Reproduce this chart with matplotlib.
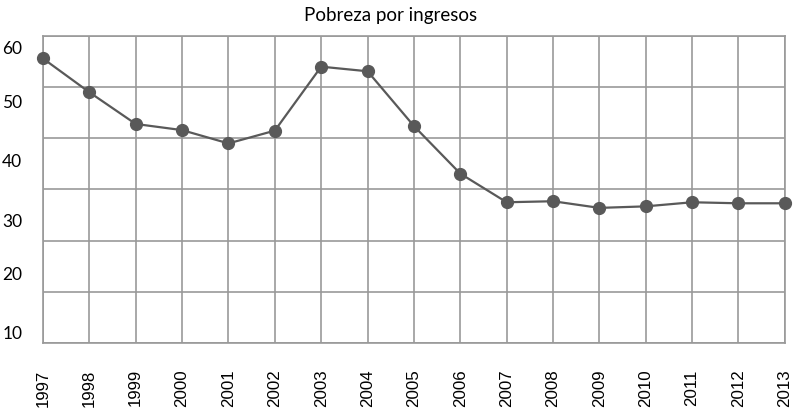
import matplotlib
matplotlib.use("Agg")
import matplotlib.pyplot as plt
import numpy as np

years = ["1997", "1998", "1999", "2000", "2001", "2002", "2003", "2004", "2005",
         "2006", "2007", "2008", "2009", "2010", "2011", "2012", "2013"]
pobreza = [55.6, 49.0, 42.8, 41.6, 39.0, 41.5, 54.0, 53.1, 42.4,
           33.1, 27.5, 27.7, 26.4, 26.7, 27.5, 27.3, 27.3]
grid_values = [0, 10, 20, 30, 40, 50, 60]
y_labels = ["60", "50", "40", "30", "20", "10"]
y_label_pos = [57.65, 47.1, 35.7, 24.0, 13.6, 2.07]
title = "Pobreza por ingresos"

fig = plt.figure(figsize=(7.96, 4.11), dpi=100)
ax = fig.add_axes([0.054, 0.1655, 0.932, 0.747])

x = np.arange(len(years))
ax.plot(x, pobreza, color="#595959", lw=1.6, marker="o", ms=8.5,
        markeredgecolor="#595959", markerfacecolor="#595959", clip_on=False, zorder=3)

ax.set_xlim(0, len(years) - 1)
ax.set_ylim(0, 60)
ax.set_xticks(x)
ax.set_xticklabels(years, rotation=90, fontsize=12.2, family="Liberation Sans", color="#000000")
ax.set_yticks(grid_values)
ax.set_yticklabels([])
ax.set_yticks(y_label_pos, minor=True)
ax.set_yticklabels(y_labels, minor=True, fontsize=12.5, family="Lato", color="#000000")
ax.tick_params(axis="y", which="both", length=0, pad=15)
ax.tick_params(axis="x", length=0, pad=19)
ax.grid(True, which="major", color="#999999", lw=1.2)
for s in ax.spines.values():
    s.set_color("#999999")
    s.set_linewidth(1.2)

fig.text(0.491, 0.963, title, ha="center", va="center", fontsize=13.5, family="Lato")

fig.savefig("out.png", dpi=100)
